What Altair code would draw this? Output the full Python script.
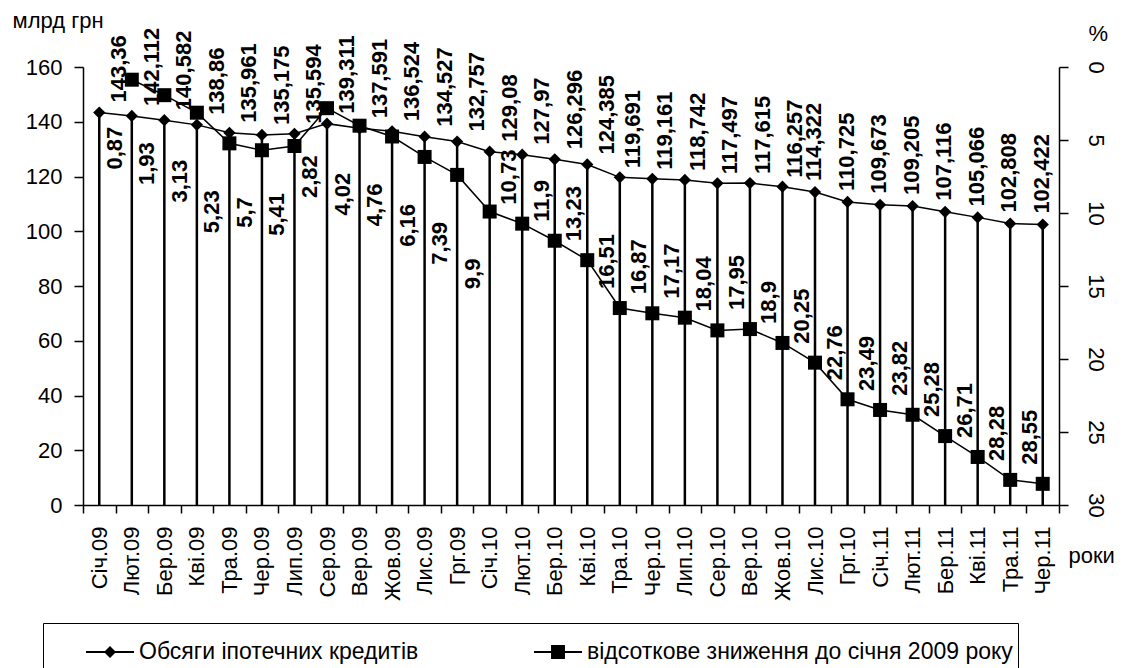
import altair as alt
import pandas as pd

months = ["Січ.09", "Лют.09", "Бер.09", "Кві.09", "Тра.09", "Чер.09", "Лип.09", "Сер.09",
          "Вер.09", "Жов.09", "Лис.09", "Грг.09", "Січ.10", "Лют.10", "Бер.10", "Кві.10",
          "Тра.10", "Чер.10", "Лип.10", "Сер.10", "Вер.10", "Жов.10", "Лис.10", "Грг.10",
          "Січ.11", "Лют.11", "Бер.11", "Кві.11", "Тра.11", "Чер.11"]

volumes = [143.36, 142.112, 140.582, 138.86, 135.961, 135.175, 135.594, 139.311,
           137.591, 136.524, 134.527, 132.757, 129.08, 127.97, 126.296, 124.385,
           119.691, 119.161, 118.742, 117.497, 117.615, 116.257, 114.322, 110.725,
           109.673, 109.205, 107.116, 105.066, 102.808, 102.422]

decline_pct = [None, 0.87, 1.93, 3.13, 5.23, 5.7, 5.41, 2.82,
               4.02, 4.76, 6.16, 7.39, 9.9, 10.73, 11.9, 13.23,
               16.51, 16.87, 17.17, 18.04, 17.95, 18.9, 20.25, 22.76,
               23.49, 23.82, 25.28, 26.71, 28.28, 28.55]

series_names = ["Обсяги іпотечних кредитів", "відсоткове зниження до січня 2009 року"]

left_values = list(range(0, 161, 20))
right_values = list(range(0, 31, 5))


def comma(v):
    return None if v is None else f"{v:g}".replace(".", ",")


df = pd.DataFrame({
    "month": months,
    "idx": list(range(len(months))),
    "vol": volumes,
    "pct": decline_pct,
    "vol_lbl": [comma(v) for v in volumes],
    "pct_lbl": [comma(v) for v in decline_pct],
})

FONT = "Liberation Sans"
W, H = 976, 438

X = alt.X("month:N", sort=months,
          scale=alt.Scale(type="band", paddingInner=0, paddingOuter=0),
          axis=alt.Axis(title="роки", tickBand="extent", tickSize=8, labelAngle=270,
                        labelAlign="right", labelBaseline="middle", labelPadding=13,
                        titleX=985, titleY=50, titleAngle=0, titleAlign="left",
                        titleBaseline="middle"))

YL = alt.Y("vol:Q", scale=alt.Scale(domain=[0, 160], nice=False),
           axis=alt.Axis(orient="left", values=left_values, title="млрд грн", titleAngle=0,
                         titleX=-71, titleY=-40, titleAlign="left", titleBaseline="alphabetic",
                         tickSize=9, labelPadding=12))

YR = alt.Y("pct:Q", scale=alt.Scale(domain=[0, 30], reverse=True, nice=False, zero=False),
           axis=alt.Axis(orient="right", values=right_values, title="%", titleAngle=0,
                         titleX=29, titleY=-27, titleAlign="left", titleBaseline="alphabetic",
                         tickSize=9, labelAngle=90, labelAlign="center",
                         labelBaseline="middle", labelPadding=27))

base = alt.Chart(df)

drop = base.mark_rule(color="black", strokeWidth=2.5).encode(x=X, y=YL, y2=alt.datum(0))
vol_line = base.mark_line(color="black", strokeWidth=1.5).encode(x=X, y=YL)
vol_pts = base.mark_point(shape="diamond", filled=True, size=150, color="black",
                          opacity=1).encode(x=X, y=YL)


def vol_text(lo, hi, dx, dy):
    return base.transform_filter(
        f"datum.idx >= {lo} && datum.idx <= {hi}"
    ).mark_text(angle=270, align="left", baseline="middle", dx=dx, dy=dy,
                font=FONT, fontSize=22, fontWeight="bold", color="black").encode(
        x=X, y=YL, text="vol_lbl:N")


vt1 = vol_text(0, 15, 10, 20)
vt2 = vol_text(16, 21, 9, 13)
vt3 = vol_text(22, 29, 11, -1)

diamond_path = ("M-1,-0.04L1,-0.04L1,0.04L-1,0.04Z "
                "M-0.25,0L0,-0.25L0.25,0L0,0.25Z")
square_path = ("M-1,-0.04L1,-0.04L1,0.04L-1,0.04Z "
               "M-0.29,-0.29L0.29,-0.29L0.29,0.29L-0.29,0.29Z")

legend_layer = base.transform_calculate(series="'x'").transform_filter("false").mark_point(
    filled=True, color="black", opacity=1).encode(
    x=X, y=YL,
    shape=alt.Shape("series:N",
                    scale=alt.Scale(domain=series_names, range=[diamond_path, square_path]),
                    legend=alt.Legend(title=None, orient="none", legendX=-40, legendY=556,
                                      direction="horizontal", symbolSize=2304,
                                      symbolStrokeWidth=0, symbolFillColor="black",
                                      labelFont=FONT, labelFontSize=23, labelColor="black",
                                      labelLimit=800, strokeColor="black", padding=5,
                                      columnPadding=77, labelOffset=5, symbolOffset=38)))

pct_base = base.transform_filter("isValid(datum.pct)")
pct_line = pct_base.mark_line(color="black", strokeWidth=1.5).encode(x=X, y=YR)
pct_pts = pct_base.mark_point(shape="square", filled=True, size=196, color="black",
                              opacity=1).encode(x=X, y=YR)

pt_below = pct_base.transform_filter("datum.idx <= 12").mark_text(
    angle=270, align="right", baseline="middle", dx=-47, dy=-17,
    font=FONT, fontSize=22, fontWeight="bold", color="black").encode(
    x=X, y=YR, text="pct_lbl:N")
pt_above = pct_base.transform_filter("datum.idx >= 13").mark_text(
    angle=270, align="left", baseline="middle", dx=19, dy=-13,
    font=FONT, fontSize=22, fontWeight="bold", color="black").encode(
    x=X, y=YR, text="pct_lbl:N")

left = alt.layer(drop, vol_line, vol_pts, vt1, vt2, vt3, legend_layer)
right = alt.layer(pct_line, pct_pts, pt_below, pt_above)

chart = alt.layer(left, right).resolve_scale(y="independent").properties(
    width=W, height=H,
    padding={"left": 83, "top": 67, "right": 1125 - 83 - W, "bottom": 668 - 67 - H},
    autosize=alt.AutoSizeParams(type="none"),
).configure_view(stroke=None).configure_axis(
    labelFont=FONT, labelFontSize=22, labelColor="black",
    titleFont=FONT, titleFontSize=22, titleFontWeight="normal", titleColor="black",
    domainColor="black", domainWidth=1.5, tickColor="black", tickWidth=1.5, grid=False,
)

chart.save("out.html", embed_options={"renderer": "svg", "actions": False})
